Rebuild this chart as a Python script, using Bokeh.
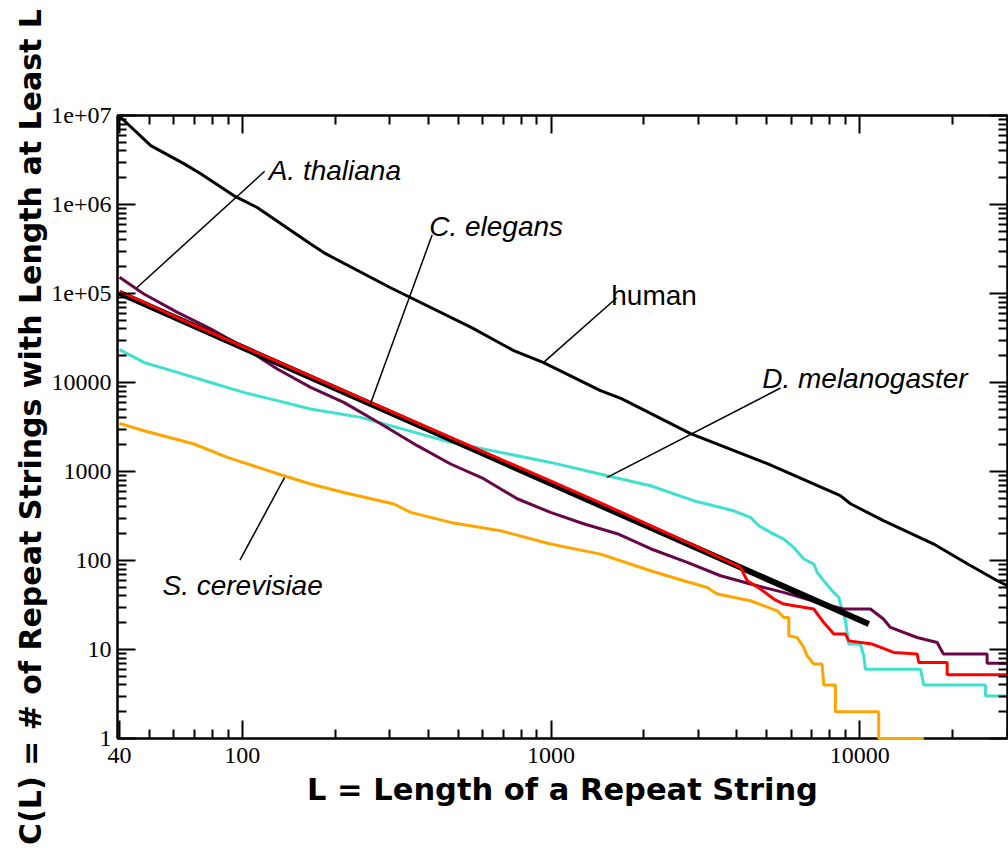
from bokeh.plotting import figure
from bokeh.models import LogAxis, FixedTicker, Range1d, CustomJSTickFormatter, Label
from bokeh.embed import file_html
from bokeh.resources import INLINE

# ---------------- data ----------------
human_x = [40, 50.5, 64.6, 73.3, 93.7, 112, 166, 186, 302, 553, 757, 946, 1446, 1690,
           2830, 5020, 8650, 9330, 11930, 17300, 22300, 27900, 30100]
human_y = [9.8e6, 4.59e6, 2.88e6, 2.22e6, 1.26e6, 9.2e5, 3.63e5, 2.8e5, 1.16e5, 4.13e4,
           2.28e4, 1.67e4, 8090, 6580, 2660, 1223, 535, 434, 280, 154, 92, 59.2, 52]

fit_x = [40, 10700]
fit_y = [1.01e5, 19.3]

elegans_x = [40, 70, 150, 300, 600, 1000, 1500, 2100, 3000, 4110, 4320, 4770, 5266, 5675,
             7100, 7645, 8240, 8990, 9210, 10970, 12880, 15340, 15530, 19190, 19190, 30100]
elegans_y = [1.06e5, 4.37e4, 1.38e4, 4800, 1680, 780, 420, 246, 140, 83.6, 59.2, 47.8, 36.9,
             32.4, 28.5, 20.1, 14.9, 14.9, 12.5, 11.5, 9.26, 8.9, 7.15, 7.15, 5.2, 5.2]

thaliana_x = [40, 48, 61.6, 78.9, 101, 129.8, 166.4, 213, 280.5, 368.7, 472.6, 604.5, 777,
              996, 1274, 1639, 2100, 2761, 3540, 4427, 5662, 7630, 8850, 10830, 11930, 12570,
              15340, 17810, 18660, 25850, 25850, 30100]
thaliana_y = [1.52e5, 9.88e4, 6.14e4, 4.0e4, 2.48e4, 1.42e4, 8820, 5980, 3445, 1950, 1214,
              830, 494, 347, 259, 200, 135.6, 95.1, 67.4, 54.4, 43.8, 32.4, 28.5, 28.5, 22,
              17.7, 13.65, 12, 8.9, 8.9, 7.0, 7.0]

melano_x = [40, 48, 61.6, 78.9, 101, 129.8, 166.4, 241.6, 472.6, 996, 1520, 2100, 2894, 3900,
            4427, 4710, 5137, 5670, 6113, 6587, 7100, 7280, 7645, 8140, 8550, 8660, 8990,
            9210, 10050, 10300, 10430, 15730, 16120, 25530, 25530, 30100]
melano_y = [2.34e4, 1.68e4, 1.30e4, 1.0e4, 7740, 6250, 5040, 4055, 2123, 1265, 897, 692, 470,
            362, 305, 246, 207, 174, 140, 104, 91.2, 73.4, 59.2, 45.7, 38.4, 32.4, 21, 11.5,
            11.5, 8.5, 6.0, 6.0, 4.0, 4.0, 3.0, 3.0]

cerev_x = [40, 48, 69.7, 89.4, 136.4, 166.4, 213, 309.7, 350.8, 472.6, 686, 996, 1446, 2100,
           2692, 3205, 3452, 4427, 5402, 5675, 5890, 5890, 6270, 6587, 6755, 7100, 7550,
           7645, 8340, 8340, 11520, 11520, 16120]
cerev_y = [3473, 2873, 2037, 1440, 897, 723, 582, 431, 347, 268, 216, 153, 118, 76.7, 59.2,
           49.8, 42, 35.3, 27.2, 22.9, 22.9, 14.3, 13.65, 10.5, 8.5, 6.86, 6.86, 4.0, 4.0,
           2.0, 2.0, 1, 1]

x_ticks = [40, 100, 1000, 10000]
x_tick_labels = ["40", "100", "1000", "10000"]
y_ticks = [1, 10, 100, 1000, 10000, 1e5, 1e6, 1e7]
y_tick_labels = ["1", "10", "100", "1000", "10000", "1e+05", "1e+06", "1e+07"]

ann_text = ["A. thaliana", "C. elegans", "human", "D. melanogaster", "S. cerevisiae"]
ann_style = ["italic", "italic", "normal", "italic", "italic"]
ann_x = [121.7, 403, 1567, 4830, 55.1]
ann_y = [2.39e6, 5.64e5, 9.46e4, 1.11e4, 52]
lead_x0 = [118.1, 411.8, 1630, 5537, 138]
lead_y0 = [2.36e6, 4.53e5, 8.9e4, 8670, 897]
lead_x1 = [45.5, 260, 944, 1520, 98.2]
lead_y1 = [1.16e5, 5780, 1.67e4, 859, 101]

# ---------------- figure ----------------
p = figure(width=1008, height=863, x_axis_type="log", y_axis_type="log",
           x_range=Range1d(39.4, 30100), y_range=Range1d(1, 1e7),
           output_backend="svg", toolbar_location=None,
           min_border_left=117, min_border_right=1, min_border_top=115, min_border_bottom=125)
p.xgrid.visible = False
p.ygrid.visible = False
p.background_fill_color = "white"
p.border_fill_color = "white"
p.outline_line_color = "black"
p.outline_line_width = 2

x_minor = [m * 10 ** d for d in (1, 2, 3, 4) for m in range(2, 10) if 40 < m * 10 ** d <= 30000]
y_minor = [m * 10 ** d for d in range(0, 7) for m in range(2, 10)]
xt = FixedTicker(ticks=x_ticks, minor_ticks=x_minor)
yt = FixedTicker(ticks=y_ticks, minor_ticks=y_minor)


def style_axis(ax):
    ax.major_tick_in = 18
    ax.major_tick_out = 0
    ax.minor_tick_in = 9
    ax.minor_tick_out = 0
    ax.major_tick_line_width = 2
    ax.minor_tick_line_width = 2
    ax.major_tick_line_color = "black"
    ax.minor_tick_line_color = "black"
    ax.axis_line_width = 2
    ax.axis_line_color = "black"
    ax.major_label_text_font = "Liberation Serif"
    ax.major_label_text_font_size = "24px"
    ax.major_label_text_color = "black"


xa = p.xaxis[0]
xa.ticker = xt
xa.major_label_overrides = {t: s for t, s in zip(x_ticks, x_tick_labels)}
style_axis(xa)
xa.major_label_standoff = 9
xa.axis_label = "L = Length of a Repeat String"
xa.axis_label_text_font = "DejaVu Sans"
xa.axis_label_text_font_style = "bold"
xa.axis_label_text_font_size = "30.5px"
xa.axis_label_text_color = "black"
xa.axis_label_standoff = 6

ya = p.yaxis[0]
ya.ticker = yt
ya.major_label_overrides = {t: s for t, s in zip(y_ticks, y_tick_labels)}
style_axis(ya)
ya.major_label_standoff = 6
ya.axis_label = "C(L) = # of Repeat Strings with Length at Least L"
ya.axis_label_text_font = "DejaVu Sans"
ya.axis_label_text_font_style = "bold"
ya.axis_label_text_font_size = "30px"
ya.axis_label_text_color = "black"
ya.axis_label_standoff = 0

blank = "return ''"
top = LogAxis(ticker=xt, formatter=CustomJSTickFormatter(code=blank))
style_axis(top)
top.major_label_standoff = 0
p.add_layout(top, "above")
right = LogAxis(ticker=yt, formatter=CustomJSTickFormatter(code=blank))
style_axis(right)
right.major_label_standoff = 0
p.add_layout(right, "right")

# ---------------- series ----------------
p.line(human_x, human_y, line_color="black", line_width=3)
p.line(cerev_x, cerev_y, line_color="#FFA500", line_width=3, level="overlay")
p.line(melano_x, melano_y, line_color="#40E0D0", line_width=3)
p.line(thaliana_x, thaliana_y, line_color="#670748", line_width=3)
p.line(fit_x, fit_y, line_color="black", line_width=6)
p.line(elegans_x, elegans_y, line_color="#FF0000", line_width=3)

# ---------------- annotations ----------------
p.segment(x0=lead_x0, y0=lead_y0, x1=lead_x1, y1=lead_y1, line_color="black", line_width=1.5)
for t, s, x, y in zip(ann_text, ann_style, ann_x, ann_y):
    p.add_layout(Label(x=x, y=y, text=t, text_font="Liberation Sans", text_font_style=s,
                       text_font_size="28px", text_color="black", text_baseline="alphabetic",
                       text_align="left"))

open("out.html", "w").write(file_html(p, INLINE))
